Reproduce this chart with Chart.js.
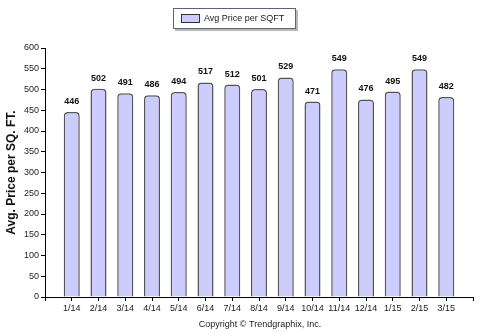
<!DOCTYPE html>
<html>
<head>
<meta charset="utf-8">
<script src="https://cdn.jsdelivr.net/npm/chart.js@4"></script>
<style>
  html, body { margin: 0; padding: 0; background: #fff; }
  #c { display: block; }
</style>
</head>
<body>
<canvas id="c" width="480" height="334"></canvas>
<script>
  // Data
  const months = ['1/14', '2/14', '3/14', '4/14', '5/14', '6/14', '7/14', '8/14',
    '9/14', '10/14', '11/14', '12/14', '1/15', '2/15', '3/15']
  const avgPrice = [446, 502, 491, 486, 494, 517, 512, 501, 529, 471, 549, 476, 495, 549, 482]
  const seriesName = 'Avg Price per SQFT'
  const yTitle = 'Avg. Price per SQ. FT.'
  const copyright = 'Copyright \u00a9 Trendgraphix, Inc.'

  // empty slot at each end so the axis runs past the first and last bar
  const labels = [''].concat(months, [''])
  const values = [null].concat(avgPrice, [null])

  const barFill = '#ccccff'
  const barLine = '#555555'

  const extras = {
    id: 'extras',
    afterDatasetsDraw (chart) {
      const ctx = chart.ctx
      const meta = chart.getDatasetMeta(0)
      ctx.save()
      ctx.font = 'bold 9px Arial, "Liberation Sans", sans-serif'
      ctx.fillStyle = '#111'
      ctx.textAlign = 'center'
      ctx.textBaseline = 'bottom'
      meta.data.forEach((bar, i) => {
        if (values[i] == null) return
        ctx.fillText(String(values[i]), bar.x, bar.y - 6)
      })
      ctx.restore()
    },
    afterDraw (chart) {
      const ctx = chart.ctx
      ctx.save()
      // legend box with shadow
      ctx.fillStyle = '#b8b8b8'
      ctx.fillRect(175, 10, 123, 21)
      ctx.fillStyle = '#fff'
      ctx.fillRect(173, 8, 123, 21)
      ctx.strokeStyle = '#5a6478'
      ctx.lineWidth = 1
      ctx.strokeRect(173.5, 8.5, 122, 20)
      ctx.fillStyle = barFill
      ctx.fillRect(181, 14, 19, 9)
      ctx.strokeStyle = '#333'
      ctx.strokeRect(181.5, 14.5, 18, 8)
      ctx.font = '9px Arial, "Liberation Sans", sans-serif'
      ctx.fillStyle = '#222'
      ctx.textAlign = 'left'
      ctx.textBaseline = 'middle'
      ctx.fillText(seriesName, 204, 19)
      // copyright
      ctx.textAlign = 'center'
      ctx.fillText(copyright, 260, 325)
      ctx.restore()
    }
  }

  new Chart(document.getElementById('c'), {
    type: 'bar',
    data: {
      labels: labels,
      datasets: [{
        label: seriesName,
        data: values,
        backgroundColor: barFill,
        borderColor: barLine,
        borderWidth: 1.5,
        borderSkipped: 'bottom',
        borderRadius: { topLeft: 4, topRight: 4 },
        barPercentage: 0.6,
        categoryPercentage: 1
      }]
    },
    options: {
      responsive: false,
      animation: false,
      layout: { padding: { top: 48, right: 7, bottom: 0, left: 0 } },
      plugins: {
        legend: { display: false },
        tooltip: { enabled: false }
      },
      scales: {
        x: {
          offset: false,
          grid: { offset: false, drawOnChartArea: false, tickLength: 4, color: '#000' },
          border: { color: '#000', width: 1 },
          ticks: {
            autoSkip: false,
            maxRotation: 0,
            padding: 2,
            color: '#222',
            font: { family: 'Arial, "Liberation Sans", sans-serif', size: 9 }
          },
          afterFit (scale) { scale.height = 37 }
        },
        y: {
          min: 0,
          max: 600,
          ticks: {
            stepSize: 50,
            padding: 2,
            color: '#222',
            font: { family: 'Arial, "Liberation Sans", sans-serif', size: 9 }
          },
          grid: { drawOnChartArea: false, tickLength: 4, color: '#000' },
          border: { color: '#000', width: 1 },
          title: {
            display: true,
            text: yTitle,
            color: '#111',
            padding: { top: 4, bottom: 2 },
            font: { family: 'Arial, "Liberation Sans", sans-serif', size: 12, weight: 'bold' }
          },
          afterFit (scale) { scale.width = 45 }
        }
      }
    },
    plugins: [extras]
  })
</script>
</body>
</html>
